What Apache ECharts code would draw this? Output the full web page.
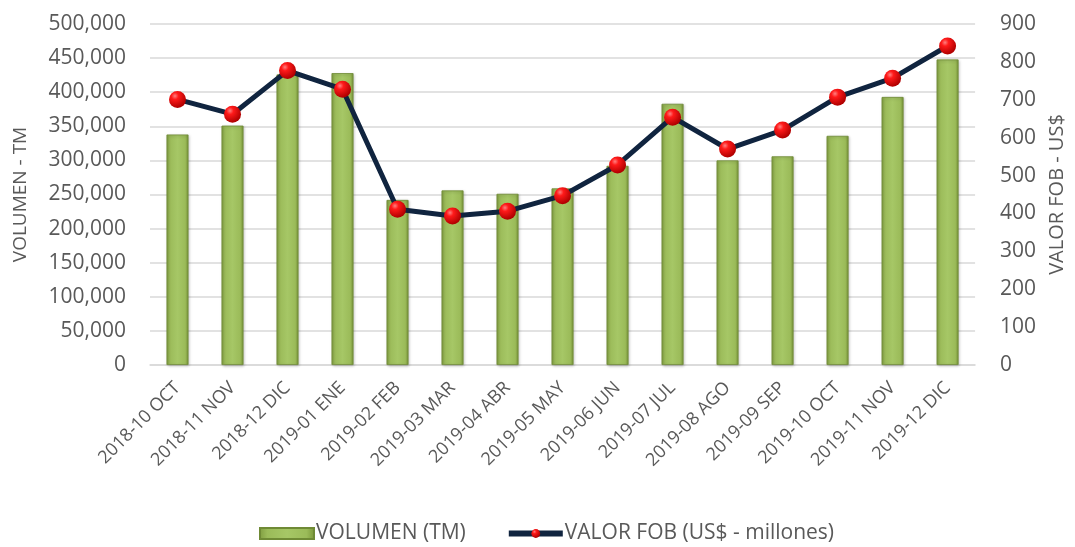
<!DOCTYPE html>
<html><head><meta charset="utf-8">
<script src="https://cdn.jsdelivr.net/npm/echarts@6/dist/echarts.min.js"></script>
<style>html,body{margin:0;padding:0;background:#fff}#c{width:1075px;height:547px}</style>
</head><body><div id="c"></div>
<script>
const categories = ['2018-10 OCT','2018-11 NOV','2018-12 DIC','2019-01 ENE','2019-02 FEB','2019-03 MAR','2019-04 ABR','2019-05 MAY','2019-06 JUN','2019-07 JUL','2019-08 AGO','2019-09 SEP','2019-10 OCT','2019-11 NOV','2019-12 DIC'];
const volumen = [338000, 351000, 426000, 428000, 242000, 256000, 251000, 259000, 292000, 383000, 300000, 306000, 336000, 393000, 448000];
const valorFob = [701, 662, 777, 728, 411, 393, 406, 447, 528, 654, 570, 620, 707, 757, 842];
const leftTicks = {min: 0, max: 500000, interval: 50000};
const rightTicks = {min: 0, max: 900, interval: 100};

const font = 'Open Sans';
const txt = '#595959';
const chart = echarts.init(document.getElementById('c'));
const barGrad = new echarts.graphic.LinearGradient(0,0,1,0,[
  {offset:0,color:'#7f9c40'},{offset:0.15,color:'#9bbb59'},{offset:0.5,color:'#a6c766'},{offset:0.85,color:'#9bbb59'},{offset:1,color:'#789538'}]);
const ball = new echarts.graphic.RadialGradient(0.35,0.3,0.7,[
  {offset:0,color:'#ff8080'},{offset:0.3,color:'#ff1a1a'},{offset:1,color:'#b00000'}]);
chart.setOption({
  animation:false,
  textStyle:{fontFamily:font},
  grid:{left:150,right:95,top:24,bottom:182},
  legend:{top:518,left:254,itemGap:40,itemWidth:54,itemHeight:11,
    textStyle:{fontFamily:font,fontSize:21,color:txt,padding:[0,0,0,-3]},
    data:[{name:'VOLUMEN (TM)',icon:'rect'},
          {name:'VALOR FOB (US$ - millones)',lineStyle:{width:6,color:'#10243f'},itemStyle:{color:ball}}]},
  xAxis:{type:'category',data:categories,
    axisLine:{lineStyle:{color:'#d9d9d9',width:1.5}},axisTick:{show:false},
    axisLabel:{rotate:45,interval:0,fontFamily:font,fontSize:18,color:txt,margin:20}},
  yAxis:[
    {type:'value',min:leftTicks.min,max:leftTicks.max,interval:leftTicks.interval,
     name:'VOLUMEN - TM',nameLocation:'middle',nameGap:120,nameRotate:90,
     nameTextStyle:{fontFamily:font,fontSize:19,color:txt},
     axisLabel:{fontFamily:font,fontSize:21,color:txt,margin:24,
       formatter:v=>v.toLocaleString('en-US')},
     axisLine:{show:false},axisTick:{show:false},
     splitLine:{lineStyle:{color:'#d9d9d9',width:1.5}}},
    {type:'value',min:rightTicks.min,max:rightTicks.max,interval:rightTicks.interval,
     name:'VALOR FOB - US$',nameLocation:'middle',nameGap:71,nameRotate:90,
     nameTextStyle:{fontFamily:font,fontSize:20,color:txt},
     axisLabel:{fontFamily:font,fontSize:21,color:txt,margin:25},
     axisLine:{show:false},axisTick:{show:false},splitLine:{show:false}}
  ],
  series:[
    {name:'VOLUMEN (TM)',type:'bar',data:volumen,barWidth:'40%',
     itemStyle:{color:barGrad,borderColor:'#6f8a35',borderWidth:0.8,
       shadowColor:'rgba(0,0,0,0.25)',shadowBlur:3,shadowOffsetX:1,shadowOffsetY:1}},
    {name:'VALOR FOB (US$ - millones)',type:'line',yAxisIndex:1,data:valorFob,
     symbol:'circle',symbolSize:17,
     lineStyle:{color:'#10243f',width:5},
     itemStyle:{color:ball,borderWidth:0},
     z:5}
  ]
});
</script></body></html>
